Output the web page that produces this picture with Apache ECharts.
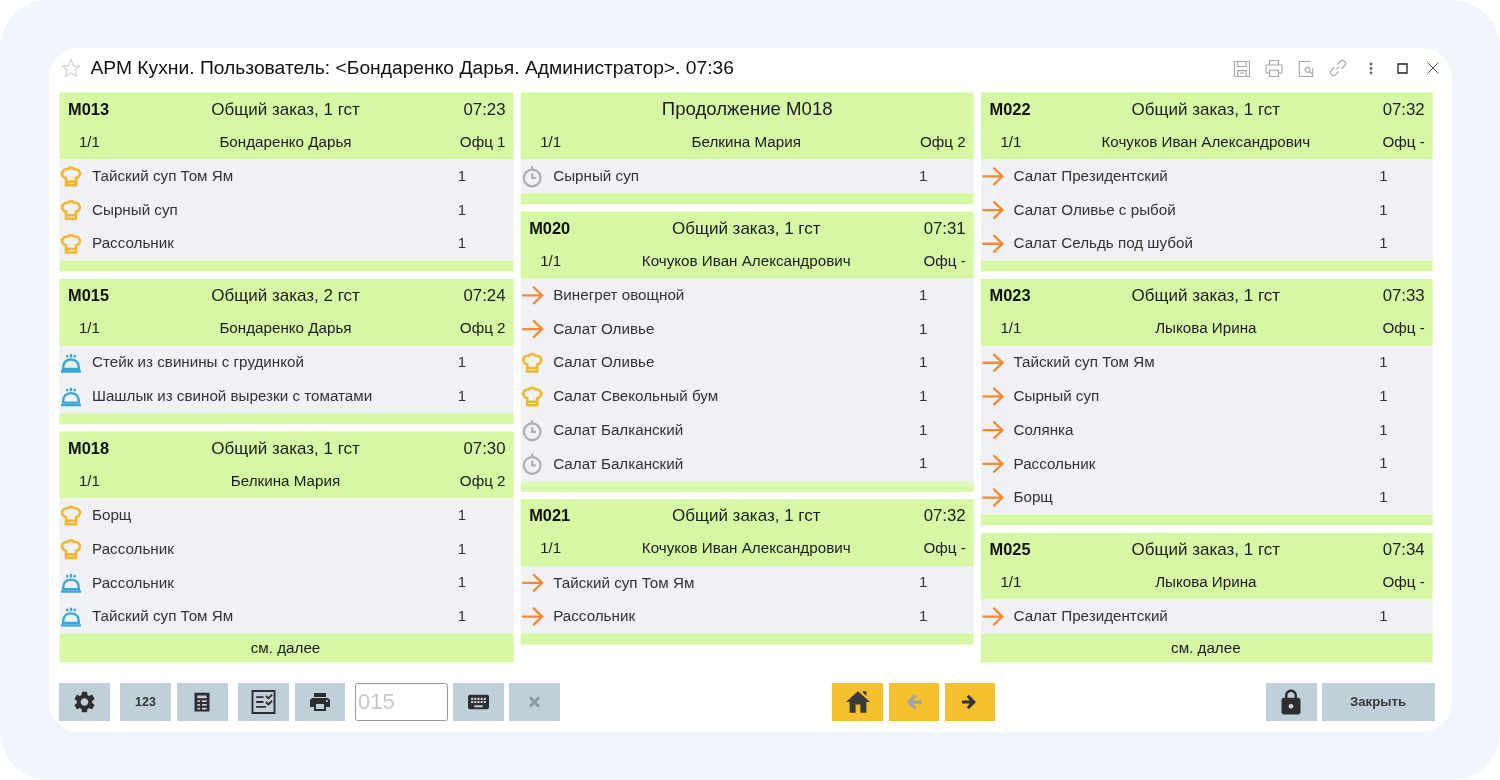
<!DOCTYPE html>
<html>
<head>
<meta charset="utf-8">
<title>АРМ Кухни</title>
<script src="https://cdn.jsdelivr.net/npm/echarts@6/dist/echarts.min.js"></script>
<style>
html, body { margin: 0; padding: 0; background: #fff; }
#main { width: 1500px; height: 780px; }
</style>
</head>
<body>
<div id="main"></div>
<script>
// заказы
var cardColumns = [0, 0, 0, 1, 1, 1, 2, 2, 2];
var cardIds = ['M013', 'M015', 'M018', 'Продолжение M018', 'M020', 'M021', 'M022', 'M023', 'M025'];
var cardTitles = ['Общий заказ, 1 гст', 'Общий заказ, 2 гст', 'Общий заказ, 1 гст', '', 'Общий заказ, 1 гст', 'Общий заказ, 1 гст', 'Общий заказ, 1 гст', 'Общий заказ, 1 гст', 'Общий заказ, 1 гст'];
var cardTimes = ['07:23', '07:24', '07:30', '', '07:31', '07:32', '07:32', '07:33', '07:34'];
var cardParts = ['1/1', '1/1', '1/1', '1/1', '1/1', '1/1', '1/1', '1/1', '1/1'];
var cardWaiters = ['Бондаренко Дарья', 'Бондаренко Дарья', 'Белкина Мария', 'Белкина Мария', 'Кочуков Иван Александрович', 'Кочуков Иван Александрович', 'Кочуков Иван Александрович', 'Лыкова Ирина', 'Лыкова Ирина'];
var cardOffices = ['Офц 1', 'Офц 2', 'Офц 2', 'Офц 2', 'Офц -', 'Офц -', 'Офц -', 'Офц -', 'Офц -'];
var cardFooters = ['', '', 'см. далее', '', '', '', '', '', 'см. далее'];
var cardDishes = [
    ['Тайский суп Том Ям', 'Сырный суп', 'Рассольник'],
    ['Стейк из свинины с грудинкой', 'Шашлык из свиной вырезки с томатами'],
    ['Борщ', 'Рассольник', 'Рассольник', 'Тайский суп Том Ям'],
    ['Сырный суп'],
    ['Винегрет овощной', 'Салат Оливье', 'Салат Оливье', 'Салат Свекольный бум', 'Салат Балканский', 'Салат Балканский'],
    ['Тайский суп Том Ям', 'Рассольник'],
    ['Салат Президентский', 'Салат Оливье с рыбой', 'Салат Сельдь под шубой'],
    ['Тайский суп Том Ям', 'Сырный суп', 'Солянка', 'Рассольник', 'Борщ'],
    ['Салат Президентский']
];
var cardQty = [
    [1, 1, 1], [1, 1], [1, 1, 1, 1], [1], [1, 1, 1, 1, 1, 1], [1, 1], [1, 1, 1], [1, 1, 1, 1, 1], [1]
];
var cardStatus = [
    ['cook', 'cook', 'cook'],
    ['ready', 'ready'],
    ['cook', 'cook', 'ready', 'ready'],
    ['wait'],
    ['next', 'next', 'cook', 'cook', 'wait', 'wait'],
    ['next', 'next'],
    ['next', 'next', 'next'],
    ['next', 'next', 'next', 'next', 'next'],
    ['next']
];

// геометрия карточек
var colLeft = [59.5, 520.7, 981];
var colRight = [513.5, 973.7, 1432.7];
var topY = 92.5, headH = 67, rowH = 33.7, footH = 11, moreH = 29, gapY = 7.3;
var FONT = '"Liberation Sans", Arial, sans-serif';

var statusIcons = {
    cook: { color: '#f4b62c', w: 18, h: 19, lw: 2.6, d: 'M7 14C3 13 2 9 4 7C5 5 8 5 9 5C10 3 14 3 15 5C17 5 19 5 20 7C22 9 21 13 17 14L17 21L7 21ZM7 17.5L17 17.5' },
    ready: { color: '#35a7d8', w: 20, h: 21, lw: 2.3, d: 'M4 19C4 13 7 9.5 12 9.5C17 9.5 20 13 20 19ZM2 21.5H22M8 5L8.6 7.5M12 4V7.5M16 5L15.4 7.5' },
    wait: { color: '#aeaeae', w: 17, h: 20, lw: 2.2, d: 'M12 4.5A9 9 0 1 0 12.01 4.5ZM12 1V4.5M12 8.5V13.5H16' },
    next: { color: '#f58a35', w: 20, h: 20, lw: 2.3, d: 'M1 12H23M13 2.5L23 12L13 21.5' }
};

function txt(x, y, s, size, weight, fill, align) {
    return { type: 'text', style: { x: x, y: y, text: s, fontSize: size, fontWeight: weight || 'normal', fontFamily: FONT, fill: fill || '#1c1c1c', align: align || 'left', verticalAlign: 'middle' } };
}

// y-верх каждой карточки считаем по порядку внутри колонки
var cardData = [];
var colY = [topY, topY, topY];
cardIds.forEach(function (id, i) {
    var c = cardColumns[i];
    var foot = cardFooters[i] ? moreH : footH;
    cardData.push([i, colY[c]]);
    colY[c] += headH + cardDishes[i].length * rowH + foot + gapY;
});

function renderCard(params, api) {
    var i = api.value(0);
    var c = cardColumns[i];
    var a = api.coord([colLeft[c], api.value(1)]);
    var b = api.coord([colRight[c], api.value(1)]);
    var x = a[0], y = a[1], w = b[0] - a[0];
    var n = cardDishes[i].length;
    var rowsH = n * rowH;
    var foot = cardFooters[i] ? moreH : footH;
    var midX = x + w / 2 - 1;
    var kids = [];

    kids.push({ type: 'rect', shape: { x: x, y: y, width: w, height: headH }, style: { fill: '#d6f8a5' } });
    kids.push({ type: 'rect', shape: { x: x, y: y + headH, width: w, height: rowsH }, style: { fill: '#eff1f5' } });
    var footFill = '#d6f8a5';
    if (cardIds[i] === 'M020') {
        footFill = new echarts.graphic.LinearGradient(0, 0, 0, 1, [
            { offset: 0, color: '#e6f4d2' }, { offset: 0.6, color: '#d6f8a5' }, { offset: 1, color: '#d6f8a5' }
        ]);
    }
    kids.push({ type: 'rect', shape: { x: x, y: y + headH + rowsH, width: w, height: foot }, style: { fill: footFill } });

    if (cardTitles[i]) {
        kids.push(txt(x + 8.5, y + 17.5, cardIds[i], 16.4, 'bold', '#111'));
        kids.push(txt(midX, y + 17.5, cardTitles[i], 17, 'normal', '#1c1c1c', 'center'));
        kids.push(txt(x + w - 8, y + 17.5, cardTimes[i], 16.8, 'normal', '#1c1c1c', 'right'));
    } else {
        kids.push(txt(midX + 1, y + 17, cardIds[i], 18.6, 'normal', '#1c1c1c', 'center'));
    }
    kids.push(txt(x + 19.5, y + 50, cardParts[i], 15, 'normal', '#1c1c1c'));
    kids.push(txt(midX, y + 50, cardWaiters[i], 15.2, 'normal', '#1c1c1c', 'center'));
    kids.push(txt(x + w - 8, y + 50, cardOffices[i], 15.2, 'normal', '#1c1c1c', 'right'));

    cardDishes[i].forEach(function (name, r) {
        var cy = y + headH + rowH * r + rowH / 2;
        var ic = statusIcons[cardStatus[i][r]];
        kids.push({
            type: 'path',
            shape: { pathData: ic.d, x: x + 11.5 - ic.w / 2, y: cy - ic.h / 2, width: ic.w, height: ic.h, layout: 'center' },
            style: { fill: 'none', stroke: ic.color, lineWidth: ic.lw }
        });
        kids.push(txt(x + 32.5, cy + 0.5, name, 15.2, 'normal', '#333'));
        kids.push(txt(x + 402.5, cy + 0.5, String(cardQty[i][r]), 15, 'normal', '#333', 'center'));
    });

    if (cardFooters[i]) {
        kids.push(txt(midX, y + headH + rowsH + foot / 2 + 0.5, cardFooters[i], 15.2, 'normal', '#1c1c1c', 'center'));
    }
    return { type: 'group', children: kids };
}

// оформление окна
function box(x, y, w, h, fill, r, stroke) {
    return { type: 'rect', shape: { x: x, y: y, width: w, height: h, r: r || 0 }, style: { fill: fill, stroke: stroke || null, lineWidth: stroke ? 1 : 0 } };
}
function icon(d, cx, cy, w, h, style) {
    return { type: 'path', shape: { pathData: d, x: cx - w / 2, y: cy - h / 2, width: w, height: h, layout: 'center' }, style: style };
}

var GREY = '#bfd0da', YELLOW = '#f5c02d', DARK = '#2e2e2e';
var topLine = { fill: 'none', stroke: '#a6a6a6', lineWidth: 1.1 };
var solidDark = { fill: DARK };

var gearPath = 'M19.14 12.94c.04-.3.06-.61.06-.94 0-.32-.02-.64-.07-.94l2.03-1.58c.18-.14.23-.41.12-.61l-1.92-3.32c-.12-.22-.37-.29-.59-.22l-2.39.96c-.5-.38-1.03-.7-1.62-.94l-.36-2.54c-.04-.24-.24-.41-.48-.41h-3.84c-.24 0-.43.17-.47.41l-.36 2.54c-.59.24-1.13.57-1.62.94l-2.39-.96c-.22-.08-.47 0-.59.22L2.74 8.87c-.12.21-.08.47.12.61l2.03 1.58c-.05.3-.09.63-.09.94s.02.64.07.94l-2.03 1.58c-.18.14-.23.41-.12.61l1.92 3.32c.12.22.37.29.59.22l2.39-.96c.5.38 1.03.7 1.62.94l.36 2.54c.05.24.24.41.48.41h3.84c.24 0 .44-.17.47-.41l.36-2.54c.59-.24 1.13-.56 1.62-.94l2.39.96c.22.08.47 0 .59-.22l1.92-3.32c.12-.22.07-.47-.12-.61l-2.01-1.58zM12 15.6c-1.98 0-3.6-1.62-3.6-3.6s1.62-3.6 3.6-3.6 3.6 1.62 3.6 3.6-1.62 3.6-3.6 3.6z';
var printPath = 'M19 8H5c-1.66 0-3 1.34-3 3v6h4v4h12v-4h4v-6c0-1.66-1.34-3-3-3zm-3 11H8v-5h8v5zm3-7c-.55 0-1-.45-1-1s.45-1 1-1 1 .45 1 1-.45 1-1 1zm-1-9H6v4h12V3z';
var keyboardPath = 'M20 5H4c-1.1 0-2 .9-2 2v10c0 1.1.9 2 2 2h16c1.1 0 2-.9 2-2V7c0-1.1-.9-2-2-2zm-9 3h2v2h-2V8zm0 3h2v2h-2v-2zM8 8h2v2H8V8zm0 3h2v2H8v-2zm-1 2H5v-2h2v2zm0-3H5V8h2v2zm9 7H8v-2h8v2zm0-4h-2v-2h2v2zm0-3h-2V8h2v2zm3 3h-2v-2h2v2zm0-3h-2V8h2v2z';
var homePath = 'M10 21v-7h4v7h5v-9h3L12 3 2 12h3v9zM16 3h3v4l-3-3z';
var lockPath = 'M18 8h-1V6c0-2.76-2.24-5-5-5S7 3.24 7 6v2H6c-1.1 0-2 .9-2 2v10c0 1.1.9 2 2 2h12c1.1 0 2-.9 2-2V10c0-1.1-.9-2-2-2zm-6 9c-1.1 0-2-.9-2-2s.9-2 2-2 2 .9 2 2-.9 2-2 2zM9 8V6c0-1.66 1.34-3 3-3s3 1.34 3 3v2H9z';
var rightPath = 'M3 10h10l-4-5 3-2 9 9-9 9-3-2 4-5H3z';
var leftPath = 'M21 10H11l4-5-3-2-9 9 9 9 3-2-4-5h10z';
var listPath = 'M4 2H20V22H4ZM7 5V8H17V5ZM7 10V12H10V10ZM12 10V12H17V10ZM7 14V16H10V14ZM12 14V16H17V14ZM7 18V20H10V18ZM12 18V20H17V18Z';

var chrome = [
    box(0, 0, 1500, 780, '#f1f6fc', 48),
    box(49, 48, 1403, 684, '#ffffff', 30),
    icon('M12 2L15 9L22 9.5L16.5 14L18.5 21.5L12 17.5L5.5 21.5L7.5 14L2 9.5L9 9Z', 71, 68, 17, 17, { fill: 'none', stroke: '#cfcfcf', lineWidth: 1.1 }),
    txt(90.5, 68.5, 'АРМ Кухни. Пользователь: <Бондаренко Дарья. Администратор>. 07:36', 19.25, 'normal', '#111'),
    // значки заголовка окна
    icon('M3 3H21V21H3ZM7 3V9H17V3ZM7 21V14H17V21ZM10 17H14', 1242, 69, 15, 15, topLine),
    icon('M7 8V3H17V8M3 8H21V17H17M7 17H3V8M7 14H17V21H7Z', 1274, 68.5, 16, 16, topLine),
    icon('M17 3H4V21H20V11M14 10A3 3 0 1 0 14.01 10M16 15L19 18', 1306, 69, 15, 15, topLine),
    icon('M10 14L14 10M8 11L4 15A3.5 3.5 0 0 0 9 20L13 16M11 8L15 4A3.5 3.5 0 0 1 20 9L16 13', 1338, 68, 15, 15, topLine),
    { type: 'circle', shape: { cx: 1371, cy: 64, r: 1.4 }, style: { fill: '#666' } },
    { type: 'circle', shape: { cx: 1371, cy: 68.5, r: 1.4 }, style: { fill: '#666' } },
    { type: 'circle', shape: { cx: 1371, cy: 73, r: 1.4 }, style: { fill: '#666' } },
    { type: 'rect', shape: { x: 1398, y: 64, width: 9, height: 9 }, style: { fill: 'none', stroke: '#222', lineWidth: 1.3 } },
    icon('M3 3L21 21M21 3L3 21', 1433, 68, 11, 11, { fill: 'none', stroke: '#555', lineWidth: 1 }),
    // нижняя панель
    box(59, 683, 51, 38, GREY),
    icon(gearPath, 84.5, 702, 20, 21, solidDark),
    box(120, 683, 51, 38, GREY),
    txt(145.5, 702.5, '123', 12.5, 'bold', '#333', 'center'),
    box(177, 683, 51, 38, GREY),
    icon(listPath, 202, 702, 15, 19, solidDark),
    box(238, 683, 51, 38, GREY),
    icon('M3 3H21V21H3ZM6 8H12M6 12H12M6 16H14M14 7L16 9L19 6M14 12L16 14L19 11', 263.5, 702, 22, 23, { fill: 'none', stroke: DARK, lineWidth: 1.9 }),
    box(295, 683, 50, 38, GREY),
    icon(printPath, 320, 702, 20, 19, solidDark),
    box(355.5, 683.5, 92, 37, '#ffffff', 2, '#999'),
    txt(358, 702.5, '015', 22, 'normal', '#c8c8c8'),
    box(453, 683, 51, 38, GREY),
    icon(keyboardPath, 478.5, 702, 21, 15, solidDark),
    box(509, 683, 51, 38, GREY),
    icon('M4 4L20 20M20 4L4 20', 534.5, 702, 9, 9, { fill: 'none', stroke: '#8b9aa3', lineWidth: 3 }),
    box(832, 683, 51, 38, YELLOW),
    icon(homePath, 858, 702, 24, 22, { fill: '#3a3a3a' }),
    box(889, 683, 50, 38, YELLOW),
    icon(leftPath, 914, 702, 16, 15, { fill: '#a5a5a0' }),
    box(945, 683, 50, 38, YELLOW),
    icon(rightPath, 969, 702, 15, 14, { fill: '#333' }),
    box(1266, 683, 51, 38, GREY),
    icon(lockPath, 1291, 702, 19, 26, solidDark),
    box(1322, 683, 113, 38, GREY),
    txt(1378, 702.5, 'Закрыть', 13.2, 'bold', '#3a3a3a', 'center')
];

var myChart = echarts.init(document.getElementById('main'), null, { renderer: 'canvas' });
var option = {
    animation: false,
    backgroundColor: '#ffffff',
    grid: { left: 0, right: 0, top: 0, bottom: 0 },
    xAxis: { type: 'value', min: 0, max: 1500, show: false },
    yAxis: { type: 'value', min: 0, max: 780, inverse: true, show: false },
    series: [{
        type: 'custom',
        coordinateSystem: 'cartesian2d',
        data: [[0, 0]],
        clip: false,
        silent: true,
        z: 1,
        renderItem: function () {
            return { type: 'group', children: chrome };
        }
    }, {
        type: 'custom',
        coordinateSystem: 'cartesian2d',
        data: cardData,
        encode: { x: 0, y: 1 },
        clip: false,
        silent: true,
        z: 2,
        renderItem: renderCard
    }]
};
myChart.setOption(option);
</script>
</body>
</html>
